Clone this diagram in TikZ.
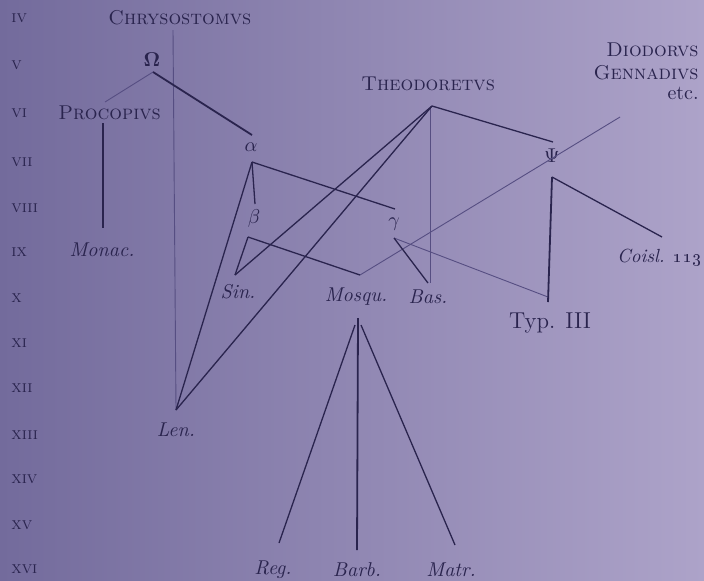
\documentclass[tikz,border=0pt]{standalone}
\usepackage{amsmath}
\definecolor{ink}{HTML}{2A244E}
\definecolor{faintink}{HTML}{564E82}
\definecolor{bgL}{HTML}{736B9C}
\definecolor{bgR}{HTML}{ADA3C9}
\tikzset{
  lbl/.style={inner sep=0pt, text=ink, font=\fontsize{10}{12}\selectfont},
  ms/.style={inner sep=0pt, text=ink, font=\fontsize{10}{12}\selectfont\itshape},
  auth/.style={inner sep=0pt, text=ink, font=\fontsize{10}{12}\selectfont\scshape},
  cent/.style={inner sep=0pt, anchor=west, text=ink, font=\fontsize{8.5}{10}\selectfont\scshape},
  heavy/.style={draw=ink, line width=0.9pt},
  med/.style={draw=ink, line width=0.65pt},
  faint/.style={draw=faintink, line width=0.45pt},
}
\begin{document}
\begin{tikzpicture}[x=0.5pt,y=-0.5pt]
\useasboundingbox (0,0) rectangle (704,580);
\shade[left color=bgL, right color=bgR] (0,0) rectangle (704,580);

% century labels
\node[cent] (c4)  at (11,18)  {iv};
\node[cent] (c5)  at (11,65)  {v};
\node[cent] (c6)  at (11,113) {vi};
\node[cent] (c7)  at (11,162) {vii};
\node[cent] (c8)  at (11,208) {viii};
\node[cent] (c9)  at (11,252) {ix};
\node[cent] (c10) at (11,298) {x};
\node[cent] (c11) at (11,343) {xi};
\node[cent] (c12) at (11,388) {xii};
\node[cent] (c13) at (11,435) {xiii};
\node[cent] (c14) at (11,479) {xiv};
\node[cent] (c15) at (11,525) {xv};
\node[cent] (c16) at (11,569) {xvi};

% authors
\node[auth, anchor=west] (chrys) at (108,18) {Chrysostomvs};
\node[auth, anchor=west] (proc)  at (58,113) {Procopivs};
\node[auth, anchor=west] (theod) at (361,84) {Theodoretvs};
\node[auth, anchor=east] (diod)  at (699,50) {Diodorvs};
\node[auth, anchor=east] (genn)  at (699,73) {Gennadivs};
\node[lbl,  anchor=east] (etc)   at (699,93) {etc.};

% sigla
\node[lbl] (Om)  at (152,60)  {$\mathbf{\Omega}$};
\node[lbl] (al)  at (251,147) {$\alpha$};
\node[lbl] (be)  at (254,218) {$\beta$};
\node[lbl] (ga)  at (394,224) {$\gamma$};
\node[lbl] (Psi) at (552,156) {$\Psi$};

% manuscripts
\node[ms] (monac) at (102,250) {Monac.};
\node[ms] (sin)   at (238,292) {Sin.};
\node[ms] (mosq)  at (356,297) {Mosqu.};
\node[ms] (bas)   at (428,297) {Bas.};
\node[lbl, font=\fontsize{11.5}{13}\selectfont] (typ) at (550,323) {Typ. III};
\node[ms, anchor=east, font=\fontsize{9.5}{11}\selectfont\itshape] (coisl) at (702,258) {Coisl. \oldstylenums{113}};
\node[ms] (len)   at (176,430) {Len.};
\node[ms] (reg)   at (273,570) {Reg.};
\node[ms] (barb)  at (357,570) {Barb.};
\node[ms] (matr)  at (451,570) {Matr.};

% line end points
\coordinate (OmB)   at (153,72);
\coordinate (procT) at (105,102);
\coordinate (procB) at (103,123);
\coordinate (monT)  at (103,228);
\coordinate (chrB)  at (173,30);
\coordinate (alT)   at (252,135);
\coordinate (alB)   at (252,162);
\coordinate (beT)   at (255,204);
\coordinate (gaT)   at (395,209);
\coordinate (beB)   at (248,237);
\coordinate (sinT)  at (235,275);
\coordinate (mosT)  at (360,275);
\coordinate (lenT)  at (176,410);
\coordinate (thB)   at (432,106);
\coordinate (thV)   at (430,107);
\coordinate (basT)  at (430,283);
\coordinate (basT2) at (428,283);
\coordinate (gaB)   at (394,238);
\coordinate (psT)   at (553,142);
\coordinate (psB)   at (552,177);
\coordinate (typT)  at (548,302);
\coordinate (typT2) at (548,297);
\coordinate (coiT)  at (662,237);
\coordinate (diodB) at (620,117);
\coordinate (mosB)  at (358,318);
\coordinate (mosBl) at (355,325);
\coordinate (mosBr) at (361,325);
\coordinate (regT)  at (279,543);
\coordinate (barT)  at (357,550);
\coordinate (matT)  at (455,545);

% faint lines
\draw[faint] (OmB) -- (procT);
\draw[faint] (chrB) -- (lenT);
\draw[faint] (thV) -- (basT);
\draw[faint] (mosT) -- (diodB);
\draw[faint] (gaB) -- (typT2);

% main lines
\draw[heavy] (OmB) -- (alT);
\draw[med] (procB) -- (monT);
\draw[med] (alB) -- (lenT);
\draw[med] (alB) -- (beT);
\draw[med] (alB) -- (gaT);
\draw[med] (beB) -- (mosT);
\draw[med] (beB) -- (sinT);
\draw[med] (sinT) -- (thB);
\draw[med] (lenT) -- (thB);
\draw[med] (thB) -- (psT);
\draw[med] (gaB) -- (basT2);
\draw[heavy] (psB) -- (typT);
\draw[med] (psB) -- (coiT);
\draw[heavy] (mosB) -- (barT);
\draw[med] (mosBl) -- (regT);
\draw[med] (mosBr) -- (matT);
\end{tikzpicture}
\end{document}
